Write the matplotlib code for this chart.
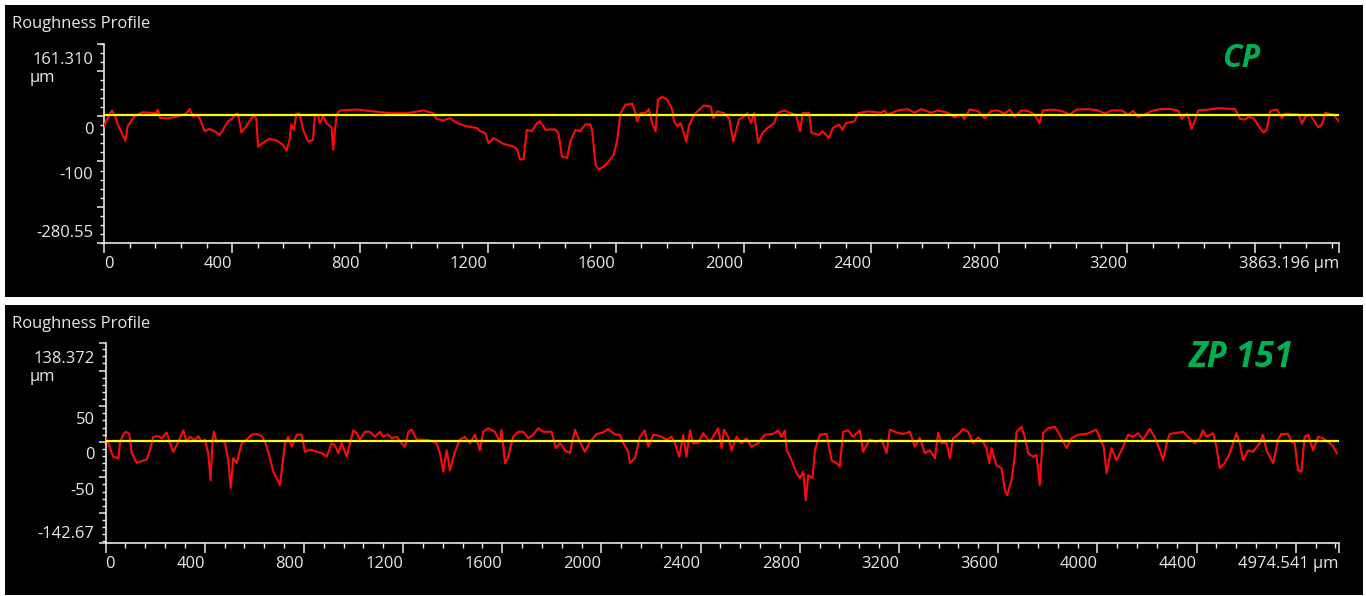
import matplotlib
matplotlib.use("Agg")
import matplotlib.pyplot as plt
from matplotlib.patches import Rectangle
from matplotlib.ticker import FixedLocator, MultipleLocator
from matplotlib.transforms import offset_copy

plt.rcParams['font.family'] = ['Open Sans', 'DejaVu Sans']

W, H = 1366, 596

# ---- CP profile: position along trace (µm) and height (µm)
cp_x = [0, 5, 24, 34, 42, 52, 66, 73, 94, 110, 120, 162, 167, 175, 204, 230, 256, 267, 277, 288,
        298, 314, 329, 345, 361, 371, 387, 402, 413, 418, 429, 444, 460, 470, 476, 481, 496, 517, 538, 559,
        570, 580, 585, 593, 601, 611, 622, 638, 653, 659, 669, 674, 685, 695, 711, 716, 727, 737, 789, 841,
        894, 946, 998, 1029, 1040, 1061, 1082, 1103, 1134, 1166, 1176, 1192, 1202, 1218, 1249, 1280, 1291, 1301, 1312, 1322,
        1338, 1354, 1364, 1380, 1395, 1411, 1421, 1432, 1448, 1458, 1474, 1489, 1505, 1521, 1526, 1537, 1547, 1563, 1578, 1594,
        1605, 1615, 1631, 1652, 1662, 1667, 1678, 1693, 1704, 1714, 1725, 1732, 1746, 1761, 1777, 1782, 1793, 1803, 1813, 1821,
        1829, 1840, 1850, 1876, 1897, 1906, 1918, 1939, 1955, 1968, 1986, 2002, 2012, 2023, 2033, 2046, 2059, 2075, 2096, 2106,
        2127, 2148, 2164, 2177, 2185, 2205, 2213, 2237, 2247, 2268, 2279, 2299, 2310, 2320, 2347, 2359, 2389, 2430, 2441, 2451,
        2483, 2514, 2535, 2556, 2587, 2608, 2639, 2660, 2681, 2691, 2707, 2733, 2754, 2775, 2796, 2817, 2833, 2848, 2869, 2890,
        2911, 2926, 2937, 2963, 2995, 3021, 3042, 3078, 3110, 3131, 3151, 3183, 3204, 3219, 3235, 3256, 3277, 3303, 3340, 3361,
        3371, 3387, 3394, 3402, 3413, 3423, 3455, 3486, 3538, 3554, 3570, 3580, 3596, 3612, 3627, 3637, 3648, 3669, 3684, 3695,
        3716, 3737, 3747, 3758, 3773, 3789, 3799, 3810, 3820, 3836, 3846, 3863]
cp_z = [-22, -11, 13, 0, -18, -33, -54, -22, 0, 6, 9, 7, 15, -4, -4, 0, 6, 16, 0, 3,
        -4, -33, -28, -33, -41, -30, -11, -4, 6, 6, -36, -22, -4, 2, -7, -67, -59, -50, -53, -63,
        -76, -52, -18, -30, 6, 6, -30, -56, -52, 4, 2, -15, 0, -15, -24, -74, 4, 13, 15, 11,
        7, 7, 13, 7, -6, -9, -4, -15, -22, -26, -33, -37, -59, -48, -61, -67, -72, -96, -94, -30,
        -33, -15, -11, -30, -29, -29, -37, -89, -92, -56, -30, -33, -18, -18, -30, -107, -118, -111, -100, -85,
        -52, 7, 26, 28, 7, -11, 7, 7, 16, -15, -33, 37, 43, 37, 15, -11, -22, -15, -37, -56,
        -22, -4, 7, 24, 22, -4, 11, 7, -4, -56, -7, 0, 7, -15, 7, -59, -37, -26, -15, 7,
        13, 7, 4, -33, 7, 8, -37, -41, -33, -48, -26, -18, -30, -15, -11, 7, 11, 8, 13, 4,
        13, 16, 8, 16, 8, 13, 8, -2, 4, -6, 15, 12, -4, 12, 13, 6, 15, -1, 13, 12,
        4, -15, 13, 15, 12, 4, 15, 16, 13, 6, 13, 13, 4, 12, -1, 4, 12, 16, 16, 12,
        -6, 6, -7, -28, -8, 13, 15, 18, 16, -6, -7, -1, -4, -22, -36, -30, 12, 15, -4, 6,
        5, 4, -16, -1, 4, -14, -24, -18, 8, 5, 4, -11]
cp_mean = 4
cp_length = 3863.196
cp_zmin, cp_zmax = -280.55, 161.310
cp_major_y = [161.310, 100, 0, -100, -200, -280.55]
cp_ylabel_vals = [161.310, 0, -100, -280.55]
cp_ylabel_txt = ["161.310", "0", "-100", "-280.55"]
cp_major_x = [0, 400, 800, 1200, 1600, 2000, 2400, 2800, 3200, 3600, 3863.196]
cp_xlabel_vals = [0, 400, 800, 1200, 1600, 2000, 2400, 2800, 3200, 3863.196]
cp_xlabel_txt = ["0", "400", "800", "1200", "1600", "2000", "2400", "2800", "3200", "3863.196 µm"]

# ---- ZP 151 profile
zp_x = [0, 11, 31, 52, 58, 72, 83, 96, 106, 126, 146, 166, 179, 193, 213, 227, 247, 260, 273, 294,
        314, 327, 341, 361, 374, 388, 401, 414, 424, 432, 437, 448, 469, 482, 495, 505, 515, 529, 549, 569,
        589, 610, 630, 643, 656, 677, 704, 714, 724, 737, 751, 771, 791, 804, 825, 852, 872, 892, 912, 925,
        939, 952, 973, 986, 999, 1013, 1026, 1046, 1066, 1087, 1107, 1120, 1140, 1154, 1174, 1194, 1208, 1221, 1235, 1255,
        1281, 1308, 1335, 1349, 1362, 1376, 1389, 1409, 1429, 1449, 1470, 1490, 1510, 1523, 1543, 1570, 1591, 1597, 1611, 1624,
        1644, 1664, 1685, 1705, 1725, 1745, 1765, 1799, 1816, 1833, 1853, 1873, 1893, 1913, 1933, 1954, 1981, 2007, 2027, 2054,
        2074, 2088, 2108, 2115, 2135, 2155, 2175, 2189, 2209, 2236, 2263, 2283, 2296, 2314, 2330, 2343, 2357, 2370, 2390, 2410,
        2437, 2458, 2471, 2485, 2494, 2511, 2525, 2545, 2565, 2585, 2605, 2632, 2659, 2693, 2713, 2726, 2740, 2747, 2767, 2787,
        2800, 2814, 2824, 2834, 2851, 2861, 2881, 2908, 2928, 2948, 2961, 2975, 2995, 3015, 3042, 3055, 3082, 3109, 3130, 3150,
        3163, 3190, 3217, 3244, 3264, 3284, 3304, 3324, 3345, 3358, 3372, 3392, 3405, 3418, 3438, 3459, 3479, 3499, 3519, 3539,
        3553, 3564, 3573, 3593, 3613, 3627, 3636, 3654, 3667, 3674, 3694, 3707, 3721, 3741, 3754, 3768, 3781, 3801, 3828, 3848,
        3876, 3896, 3922, 3956, 3996, 4010, 4026, 4037, 4057, 4077, 4104, 4124, 4144, 4164, 4184, 4211, 4231, 4252, 4265, 4281,
        4292, 4346, 4366, 4393, 4413, 4426, 4440, 4467, 4480, 4494, 4514, 4534, 4561, 4574, 4588, 4608, 4628, 4655, 4668, 4682,
        4709, 4729, 4742, 4769, 4782, 4796, 4809, 4823, 4836, 4850, 4870, 4890, 4910, 4937, 4950, 4966]
zp_z = [6, -2, -21, -23, -2, 11, 14, 11, -16, -30, -27, -25, -12, 7, 8, 5, 13, -2, -14, 0,
        16, 0, 7, 2, 8, 0, 3, -16, -54, 3, 14, 0, 2, -2, -26, -65, -23, -30, -2, 3,
        10, 11, 8, 0, -14, -42, -61, -30, -2, 7, -7, 10, 10, -14, -11, -14, -16, -21, -2, -5,
        -16, -2, -21, -2, 16, 12, 3, 14, 14, 7, 14, 7, 10, 5, 7, -2, -7, 14, 17, 3,
        3, 2, -2, -16, -42, -12, -40, -14, 3, 7, -2, 10, -12, 14, 19, 14, 0, 17, -30, -21,
        7, 14, 14, 5, 10, 19, 14, 14, -9, -2, -12, -16, 17, 0, -14, 0, 11, 13, 18, 10,
        10, -2, -14, -30, -23, 7, 16, -7, 10, 8, 3, 7, -2, -21, 10, -21, 16, -2, -2, 12,
        0, 12, 19, -9, 17, 7, -12, 7, -2, 5, -7, -2, 10, 11, 16, 7, 16, -12, -26, -44,
        -51, -42, -82, -47, -51, -12, 10, 11, -26, -30, -35, 14, 16, 7, 16, -14, 3, 0, 3, -16,
        17, 13, 11, 14, -7, 6, -16, -12, -23, 13, -2, -2, -23, 5, 10, 18, 14, -2, 6, 0,
        -9, -30, -9, -33, -37, -68, -75, -54, -21, 14, 21, 7, -16, -21, -19, -61, 12, 19, 21, 10,
        -9, 5, 10, 11, 17, 5, -7, -44, -9, -26, -7, 10, 7, 12, 3, 18, 7, -12, -26, 0,
        11, 14, 7, -2, 5, 16, 7, 12, -7, -37, -30, -16, 12, -2, -26, -12, -14, -2, 10, -12,
        -30, 3, 11, 11, 0, -2, -40, -42, 7, 10, -12, 7, 5, -2, -6, -16]
zp_mean = 1
zp_length = 4974.541
zp_zmin, zp_zmax = -142.67, 138.372
zp_major_y = [138.372, 100, 50, 0, -50, -100, -142.67]
zp_ylabel_vals = [138.372, 50, 0, -50, -142.67]
zp_ylabel_txt = ["138.372", "50", "0", "-50", "-142.67"]
zp_major_x = [0, 400, 800, 1200, 1600, 2000, 2400, 2800, 3200, 3600, 4000, 4400, 4800, 4974.541]
zp_xlabel_vals = [0, 400, 800, 1200, 1600, 2000, 2400, 2800, 3200, 3600, 4000, 4400, 4974.541]
zp_xlabel_txt = ["0", "400", "800", "1200", "1600", "2000", "2400", "2800", "3200", "3600", "4000", "4400",
                 "4974.541 µm"]

FG = '#e8e8e8'
GREEN = '#00b050'
FS = 11.9


def fx(px):
    return px / W


def fy(py):
    return 1 - py / H


def panel(fig, box, top, xs, zs, mean, length, zmin, zmax, major_y, minor_y,
          ylab_vals, ylab_txt, major_x, xlab_vals, xlab_txt, name, name_size):
    # black screenshot panel behind everything
    fig.add_artist(Rectangle((fx(5), fy(box[1])), fx(1363) - fx(5), fy(box[0]) - fy(box[1]),
                             transform=fig.transFigure, facecolor='black', edgecolor='none', zorder=0))
    x0, x1, y0, y1 = top
    ax = fig.add_axes([fx(x0), fy(y1), fx(x1) - fx(x0), fy(y0) - fy(y1)])
    ax.set_facecolor('none')
    ax.plot(xs, zs, color='#ff0a0a', lw=1.5, zorder=3)
    ax.axhline(mean, color='#ffff00', lw=1.6, zorder=4)
    ax.set_xlim(0, length)
    ax.set_ylim(zmin, zmax)

    for s in ['top', 'right']:
        ax.spines[s].set_visible(False)
    for s in ['left', 'bottom']:
        ax.spines[s].set_color(FG)
        ax.spines[s].set_linewidth(1.2)

    ax.yaxis.set_major_locator(FixedLocator(major_y))
    ax.yaxis.set_minor_locator(MultipleLocator(minor_y))
    ax.xaxis.set_major_locator(FixedLocator(major_x))
    ax.xaxis.set_minor_locator(MultipleLocator(80))
    ax.tick_params(axis='y', which='major', length=5, width=1.1, color=FG, labelleft=False)
    ax.tick_params(axis='y', which='minor', length=2.8, width=1.0, color=FG)
    ax.tick_params(axis='x', which='major', length=7.5, width=1.1, color=FG, labelbottom=False)
    ax.tick_params(axis='x', which='minor', length=3.6, width=1.0, color=FG)

    # tick labels sit below/left of their tick, like the profiler software does
    for i, (v, t) in enumerate(zip(ylab_vals, ylab_txt)):
        dy = -20 if i == 0 else (5.5 if i == len(ylab_vals) - 1 else -17.5)
        tr = offset_copy(ax.get_yaxis_transform(), fig=fig, x=-11, y=dy, units='dots')
        ax.text(0, v, t, transform=tr, ha='right', va='baseline', color=FG, fontsize=FS)
    for i, (v, t) in enumerate(zip(xlab_vals, xlab_txt)):
        tr = offset_copy(ax.get_xaxis_transform(), fig=fig, x=0, y=-25, units='dots')
        ax.text(v, 0, t, transform=tr, ha='left' if i == 0 else 'right', va='baseline',
                color=FG, fontsize=FS)

    fig.text(fx(12), fy(box[0] + 23.5), "Roughness Profile", color=FG, fontsize=FS, va='baseline')
    fig.text(fx(30), fy(y0 + 38), "µm", color=FG, fontsize=FS, va='baseline')
    fig.text(fx(1241), fy(y0 + 15), name, color=GREEN, fontsize=name_size, fontweight='bold',
             fontstyle='italic', ha='center', va='center')
    return ax


fig = plt.figure(figsize=(W / 100, H / 100), dpi=100, facecolor='white')

panel(fig, (5, 296.5), (104.3, 1339, 43.5, 243), cp_x, cp_z, cp_mean, cp_length, cp_zmin, cp_zmax,
      cp_major_y, 20, cp_ylabel_vals, cp_ylabel_txt, cp_major_x, cp_xlabel_vals, cp_xlabel_txt, "CP", 23)
panel(fig, (305, 595), (105.5, 1339, 343.3, 543.3), zp_x, zp_z, zp_mean, zp_length, zp_zmin, zp_zmax,
      zp_major_y, 10, zp_ylabel_vals, zp_ylabel_txt, zp_major_x, zp_xlabel_vals, zp_xlabel_txt, "ZP 151", 25)

fig.savefig("out.png", dpi=100, facecolor='white')
